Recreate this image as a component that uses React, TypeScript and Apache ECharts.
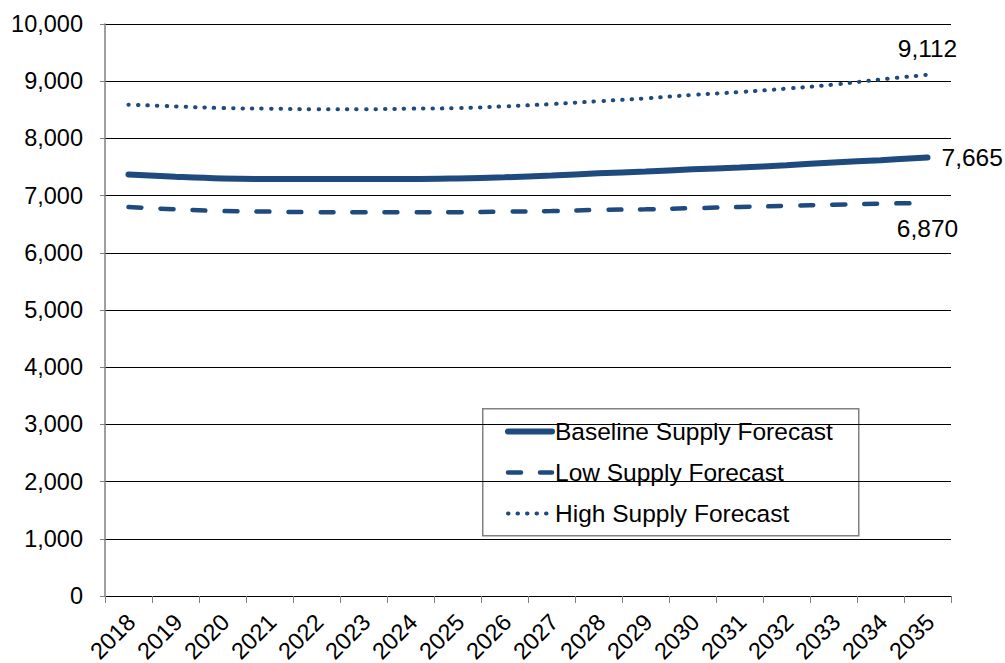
import React, { useEffect, useRef } from "react";
import * as echarts from "echarts";

const years = ["2018","2019","2020","2021","2022","2023","2024","2025","2026","2027","2028","2029","2030","2031","2032","2033","2034","2035"];
const baseline = [7370,7330,7300,7290,7290,7290,7290,7300,7320,7350,7390,7420,7460,7490,7530,7580,7620,7665];
const low = [6800,6760,6730,6720,6710,6710,6710,6710,6720,6730,6750,6760,6780,6800,6820,6840,6860,6870];
const high = [8590,8560,8530,8520,8510,8510,8520,8530,8560,8600,8650,8700,8760,8810,8870,8940,9030,9112];
const yTicks = [0, 10000, 1000];
const seriesNames = ["Baseline Supply Forecast", "Low Supply Forecast", "High Supply Forecast"];

const COLOR = "#1f4a7e";
const FONT = "'Liberation Sans', Arial, sans-serif";
const FS = 23.5;
const LFS = 24.5;

const fmt = (v: number) => v.toLocaleString("en-US");

const styles = [
  { color: COLOR, width: 6, type: "solid", cap: "round" },
  { color: COLOR, width: 4.5, type: [13, 19], cap: "round" },
  { color: COLOR, width: 4, type: [0.5, 9], cap: "round" },
];

function withEndLabel(vals: number[], position: string, distance: number) {
  return vals.map((v, i) =>
    i === vals.length - 1
      ? { value: v, label: { show: true, position, distance, formatter: fmt(v), color: "#000", fontSize: LFS, fontFamily: FONT } }
      : v
  );
}

export default function App() {
  const ref = useRef<HTMLDivElement>(null);
  useEffect(() => {
    if (!ref.current) return;
    const chart = echarts.init(ref.current, null, { renderer: "svg" });
    const common = {
      type: "line",
      smooth: 0.4,
      symbol: "circle",
      symbolSize: 0,
      showSymbol: true,
      color: COLOR,
      z: 5,
      emphasis: { disabled: true },
    };
    chart.setOption({
      animation: false,
      backgroundColor: "#fff",
      textStyle: { fontFamily: FONT },
      grid: { left: 105, right: 54, top: 24, bottom: 67, containLabel: false, outerBoundsMode: "none" },
      xAxis: {
        type: "category",
        data: years,
        boundaryGap: true,
        axisLine: { lineStyle: { color: "#000", width: 1 } },
        axisTick: { show: true, length: 7, alignWithLabel: false, lineStyle: { color: "#808080" } },
        axisLabel: { rotate: 45, color: "#000", fontSize: FS, fontFamily: FONT, margin: 25, padding: [0, -4, 0, 0], interval: 0 },
        splitLine: { show: false },
      },
      yAxis: {
        type: "value",
        min: yTicks[0],
        max: yTicks[1],
        interval: yTicks[2],
        axisLine: { show: true, lineStyle: { color: "#808080", width: 1.5 } },
        axisTick: { show: true, length: 5, lineStyle: { color: "#808080" } },
        axisLabel: { color: "#000", fontSize: FS, fontFamily: FONT, margin: 22, formatter: (v: number) => fmt(v) },
        splitLine: { show: true, lineStyle: { color: "#000", width: 1 } },
      },
      legend: {
        orient: "vertical",
        left: 505,
        top: 419,
        padding: 0,
        itemWidth: 44,
        itemHeight: 14,
        itemGap: 16,
        itemStyle: { opacity: 0 },
        textStyle: { color: "#000", fontSize: LFS, fontFamily: FONT, lineHeight: 24, padding: [0, 0, 0, -2] },
        data: seriesNames.map((n, i) => ({ name: n, lineStyle: styles[i], itemStyle: { opacity: 0 } })),
      },
      graphic: [
        {
          type: "rect",
          left: 482,
          top: 408,
          shape: { width: 376, height: 127 },
          style: { fill: "#fff", stroke: "#808080", lineWidth: 1.5 },
          z: 0,
          zlevel: 0,
        },
      ],
      series: [
        { ...common, name: seriesNames[0], lineStyle: styles[0], data: withEndLabel(baseline, "right", 14) },
        { ...common, name: seriesNames[1], lineStyle: styles[1], data: withEndLabel(low, "bottom", 13) },
        { ...common, name: seriesNames[2], lineStyle: styles[2], data: withEndLabel(high, "top", 14) },
      ],
    });
    return () => chart.dispose();
  }, []);
  return <div ref={ref} style={{ position: "absolute", left: 0, top: 0, width: 1005, height: 663 }} />;
}
